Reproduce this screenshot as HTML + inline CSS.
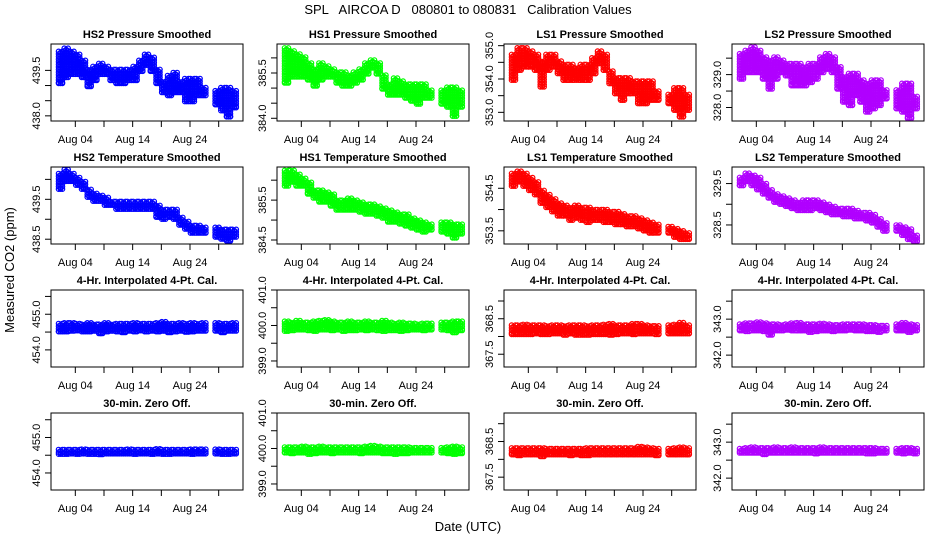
<!DOCTYPE html>
<html><head><meta charset="utf-8"><style>
html,body{margin:0;padding:0;background:#fff;}
svg{display:block;font-family:"Liberation Sans",Arial,sans-serif;}
</style></head><body>
<svg id="chart" width="936" height="540" viewBox="0 0 936 540" xmlns="http://www.w3.org/2000/svg">
<text x="468" y="14" text-anchor="middle" font-size="13" xml:space="preserve">SPL   AIRCOA D   080801 to 080831   Calibration Values</text>
<text transform="translate(14,270) rotate(-90)" text-anchor="middle" font-size="13">Measured CO2 (ppm)</text>
<text x="468" y="531" text-anchor="middle" font-size="13">Date (UTC)</text>
</svg>
<script>
// Shared x data: day-of-month centres of daily bands
const days = [1.5,2.5,3.5,4.5,5.5,6.5,7.5,8.5,9.5,10.5,11.5,12.5,13.5,14.5,15.5,16.5,17.5,18.5,19.5,20.5,21.5,22.5,23.5,24.5,25.5,26.5,28.8,29.8,30.8,31.8];
const xTicks = [4,9,14,19,24,29];
const xTickLabels = {4:"Aug 04",14:"Aug 14",24:"Aug 24"};
const panelTitles = ["HS2 Pressure Smoothed","HS1 Pressure Smoothed","LS1 Pressure Smoothed","LS2 Pressure Smoothed",
"HS2 Temperature Smoothed","HS1 Temperature Smoothed","LS1 Temperature Smoothed","LS2 Temperature Smoothed",
"4-Hr. Interpolated 4-Pt. Cal.","4-Hr. Interpolated 4-Pt. Cal.","4-Hr. Interpolated 4-Pt. Cal.","4-Hr. Interpolated 4-Pt. Cal.",
"30-min. Zero Off.","30-min. Zero Off.","30-min. Zero Off.","30-min. Zero Off."];
const yLims = [[437.83,440.37],[383.91,386.46],[352.74,355.05],[327.59,329.93],
[438.38,440.31],[384.4,386.33],[353.19,355.0],[328.04,329.9],
[453.52,455.68],[398.83,401.0],[367.14,369.31],[341.67,343.81],
[453.52,455.69],[398.83,401.0],[367.14,369.3],[341.67,343.81]];
const yTicks = [[438,438.5,439,439.5],[384,384.5,385,385.5,386],[353,353.5,354,354.5,355],[328,328.5,329,329.5],
[438.5,439,439.5,440],[384.5,385,385.5,386],[353.5,354,354.5],[328.5,329,329.5],
[454,454.5,455,455.5],[399,399.5,400,400.5,401],[367.5,368,368.5,369],[342,342.5,343,343.5],
[454,454.5,455,455.5],[399,399.5,400,400.5,401],[367.5,368,368.5,369],[342,342.5,343,343.5]];
const yTickLabels = [["438.0","439.5"],["384.0","385.5"],["353.0","354.0","355.0"],["328.0","329.0"],
["438.5","439.5"],["384.5","385.5"],["353.5","354.5"],["328.5","329.5"],
["454.0","455.0"],["399.0","400.0","401.0"],["367.5","368.5"],["342.0","343.0"],
["454.0","455.0"],["399.0","400.0","401.0"],["367.5","368.5"],["342.0","343.0"]];
const colors = ["#0000ff","#00ff00","#ff0000","#b000ff"];
// Series: lower and upper envelopes per day for each panel
const lo0=[439.0,439.2,439.3,439.3,439.2,438.9,439.1,439.3,439.3,439.1,439.0,439.0,439.1,439.1,439.4,439.6,439.4,439.0,438.7,438.6,438.7,438.7,438.4,438.4,438.6,438.6,438.3,438.1,437.9,438.2];
const hi0=[440.2,440.3,440.2,440.1,439.9,439.6,439.7,439.8,439.7,439.6,439.6,439.6,439.6,439.7,439.9,440.1,440.0,439.6,439.2,439.4,439.5,439.2,439.3,439.3,439.3,439.0,438.9,439.0,439.0,438.9];
const lo1=[385.1,385.3,385.3,385.3,385.2,385.0,385.2,385.3,385.3,385.1,385.0,385.0,385.1,385.2,385.4,385.6,385.4,384.9,384.7,384.7,384.7,384.6,384.5,384.4,384.6,384.6,384.4,384.3,384.0,384.3];
const hi1=[386.4,386.3,386.2,386.1,385.9,385.7,385.9,385.8,385.7,385.6,385.6,385.5,385.6,385.7,385.9,386.0,385.9,385.5,385.2,385.4,385.3,385.2,385.2,385.2,385.2,385.0,385.0,385.1,385.1,385.0];
const lo2=[353.9,354.2,354.3,354.3,354.2,353.7,354.2,354.3,354.1,353.9,353.9,353.9,353.9,353.9,354.1,354.4,354.2,353.8,353.5,353.3,353.5,353.5,353.2,353.2,353.3,353.3,353.2,353.0,352.8,353.0];
const hi2=[354.8,355.0,355.0,354.9,354.8,354.6,354.8,354.8,354.6,354.5,354.5,354.4,354.5,354.5,354.7,354.9,354.8,354.3,354.1,354.1,354.1,354.0,354.0,354.0,354.0,353.7,353.6,353.8,353.8,353.6];
const lo3=[328.8,329.0,329.0,329.0,328.8,328.5,328.8,329.0,328.9,328.6,328.6,328.6,328.7,328.8,329.0,329.1,329.0,328.5,328.1,328.0,328.3,328.1,327.8,327.9,328.0,328.2,327.9,327.8,327.6,327.9];
const hi3=[329.7,329.8,329.9,329.8,329.6,329.5,329.6,329.5,329.4,329.4,329.4,329.3,329.4,329.4,329.6,329.7,329.6,329.3,329.0,329.1,329.1,328.9,328.8,328.9,328.9,328.6,328.6,328.8,328.8,328.4];
const lo4=[439.7,439.9,439.9,439.8,439.7,439.5,439.4,439.4,439.3,439.3,439.2,439.2,439.2,439.2,439.2,439.2,439.2,439.0,438.95,439.0,438.95,438.8,438.7,438.6,438.6,438.6,438.5,438.45,438.4,438.5];
const hi4=[440.2,440.3,440.2,440.1,440.0,439.8,439.7,439.65,439.6,439.5,439.5,439.5,439.5,439.5,439.5,439.5,439.5,439.4,439.3,439.3,439.3,439.1,439.0,438.9,438.9,438.85,438.85,438.8,438.8,438.8];
const lo5=[385.8,385.9,385.8,385.8,385.6,385.5,385.4,385.4,385.3,385.2,385.2,385.2,385.2,385.15,385.1,385.1,385.05,385.0,384.9,384.9,384.85,384.8,384.75,384.7,384.65,384.7,384.65,384.6,384.5,384.6];
const hi5=[386.3,386.3,386.2,386.1,386.0,385.8,385.8,385.75,385.7,385.55,385.55,385.6,385.55,385.5,385.45,385.45,385.4,385.35,385.3,385.25,385.2,385.2,385.1,385.05,385.0,384.95,385.0,385.0,384.95,384.95];
const lo6=[354.5,354.6,354.5,354.4,354.3,354.1,354.0,353.9,353.8,353.8,353.7,353.75,353.7,353.65,353.7,353.7,353.65,353.65,353.6,353.6,353.55,353.55,353.5,353.45,353.4,353.4,353.4,353.3,353.25,353.25];
const hi6=[354.9,354.95,354.9,354.8,354.7,354.5,354.4,354.3,354.2,354.15,354.1,354.15,354.1,354.1,354.05,354.05,354.05,354.0,354.0,353.95,353.9,353.9,353.85,353.8,353.75,353.7,353.65,353.6,353.55,353.5];
const lo7=[329.4,329.5,329.4,329.3,329.2,329.1,329.0,328.95,328.9,328.85,328.8,328.8,328.8,328.85,328.8,328.75,328.7,328.7,328.65,328.65,328.6,328.6,328.55,328.5,328.4,328.3,328.3,328.2,328.1,328.05];
const hi7=[329.7,329.8,329.75,329.7,329.55,329.4,329.3,329.25,329.2,329.15,329.1,329.15,329.15,329.15,329.1,329.05,329.0,328.95,328.95,328.95,328.9,328.85,328.85,328.8,328.7,328.6,328.55,328.5,328.45,328.3];
const lo8=[454.45,454.45,454.47,454.48,454.45,454.45,454.47,454.4,454.45,454.47,454.45,454.43,454.47,454.45,454.48,454.45,454.47,454.45,454.47,454.43,454.45,454.47,454.44,454.45,454.47,454.47,454.47,454.43,454.47,454.47];
const hi8=[454.8,454.82,454.82,454.8,454.78,454.82,454.78,454.78,454.82,454.78,454.8,454.8,454.8,454.82,454.8,454.8,454.8,454.82,454.85,454.8,454.8,454.82,454.8,454.82,454.8,454.82,454.82,454.8,454.8,454.82];
const lo9=[399.78,399.8,399.82,399.82,399.8,399.78,399.82,399.82,399.8,399.82,399.78,399.8,399.8,399.82,399.8,399.82,399.8,399.78,399.8,399.8,399.78,399.8,399.82,399.82,399.8,399.82,399.82,399.8,399.74,399.8];
const hi9=[400.18,400.15,400.2,400.15,400.15,400.18,400.2,400.22,400.18,400.15,400.15,400.18,400.15,400.15,400.18,400.15,400.15,400.2,400.15,400.12,400.15,400.12,400.12,400.1,400.12,400.12,400.15,400.15,400.18,400.18];
const lo10=[368.0,368.0,368.0,368.0,368.02,368.0,368.0,368.02,368.02,367.98,368.02,367.98,367.98,367.98,368.0,368.0,368.0,367.98,368.0,368.02,368.02,368.0,368.02,368.02,368.02,368.0,368.02,368.02,368.02,368.02];
const hi10=[368.38,368.38,368.4,368.38,368.38,368.38,368.36,368.38,368.38,368.36,368.38,368.38,368.38,368.36,368.38,368.38,368.4,368.42,368.38,368.38,368.38,368.42,368.42,368.38,368.36,368.36,368.38,368.4,368.45,368.38];
const lo11=[342.62,342.6,342.62,342.62,342.6,342.5,342.62,342.62,342.64,342.62,342.62,342.62,342.58,342.6,342.62,342.62,342.6,342.62,342.62,342.64,342.62,342.62,342.6,342.6,342.58,342.62,342.62,342.62,342.58,342.62];
const hi11=[342.92,342.95,342.95,342.98,342.95,342.92,342.92,342.9,342.92,342.95,342.96,342.92,342.92,342.92,342.94,342.92,342.9,342.9,342.92,342.92,342.92,342.92,342.9,342.9,342.88,342.88,342.92,342.96,342.92,342.9];
const lo12=[454.47,454.47,454.48,454.47,454.48,454.47,454.47,454.46,454.48,454.48,454.48,454.48,454.48,454.47,454.48,454.48,454.47,454.48,454.47,454.47,454.48,454.48,454.48,454.47,454.48,454.48,454.48,454.47,454.47,454.48];
const hi12=[454.72,454.72,454.72,454.72,454.73,454.72,454.72,454.72,454.72,454.72,454.72,454.72,454.73,454.72,454.72,454.72,454.72,454.74,454.72,454.72,454.72,454.72,454.72,454.73,454.73,454.73,454.73,454.72,454.72,454.72];
const lo13=[399.82,399.8,399.82,399.82,399.78,399.8,399.82,399.82,399.8,399.82,399.82,399.82,399.82,399.8,399.82,399.82,399.82,399.8,399.8,399.78,399.8,399.8,399.82,399.82,399.82,399.82,399.82,399.8,399.78,399.8];
const hi13=[400.1,400.1,400.1,400.12,400.1,400.1,400.12,400.1,400.1,400.1,400.1,400.1,400.1,400.1,400.12,400.14,400.12,400.1,400.1,400.1,400.1,400.1,400.08,400.08,400.08,400.08,400.08,400.1,400.12,400.1];
const lo14=[368.07,368.05,368.07,368.07,368.07,368.02,368.07,368.07,368.07,368.07,368.05,368.07,368.05,368.05,368.07,368.07,368.07,368.07,368.07,368.07,368.07,368.07,368.07,368.07,368.07,368.05,368.07,368.07,368.07,368.07];
const hi14=[368.38,368.38,368.38,368.38,368.38,368.38,368.36,368.36,368.36,368.36,368.36,368.36,368.36,368.38,368.38,368.38,368.38,368.38,368.38,368.38,368.38,368.38,368.42,368.4,368.38,368.36,368.36,368.38,368.4,368.38];
const lo15=[342.64,342.64,342.64,342.64,342.6,342.64,342.64,342.64,342.64,342.64,342.64,342.64,342.64,342.62,342.64,342.64,342.64,342.64,342.64,342.64,342.64,342.64,342.62,342.62,342.64,342.64,342.64,342.62,342.64,342.62];
const hi15=[342.88,342.9,342.92,342.9,342.9,342.9,342.92,342.9,342.9,342.92,342.9,342.9,342.9,342.9,342.92,342.9,342.9,342.9,342.9,342.9,342.9,342.9,342.9,342.9,342.88,342.88,342.88,342.9,342.9,342.88];
const los=[lo0,lo1,lo2,lo3,lo4,lo5,lo6,lo7,lo8,lo9,lo10,lo11,lo12,lo13,lo14,lo15];
const his=[hi0,hi1,hi2,hi3,hi4,hi5,hi6,hi7,hi8,hi9,hi10,hi11,hi12,hi13,hi14,hi15];
const panelNames=["hs2-pressure","hs1-pressure","ls1-pressure","ls2-pressure","hs2-temperature","hs1-temperature","ls1-temperature","ls2-temperature","hs2-4hr-cal","hs1-4hr-cal","ls1-4hr-cal","ls2-4hr-cal","hs2-zero-off","hs1-zero-off","ls1-zero-off","ls2-zero-off"];

const NS="http://www.w3.org/2000/svg";
const svg=document.getElementById('chart');
const lefts=[51,277,504,732], tops=[44,167,290,413], W=192, H=77;
const xMin=-0.24, xMax=33.24;
function mk(tag,attrs,parent){const e=document.createElementNS(NS,tag);for(const k in attrs)e.setAttribute(k,attrs[k]);parent.appendChild(e);return e;}

for(let p=0;p<16;p++){
  const L=lefts[p%4], T=tops[Math.floor(p/4)];
  const g=mk('g',{},svg);
  
  
  const [y0,y1]=yLims[p];
  const xs=d=>L+(d-xMin)/(xMax-xMin)*W;
  const ys=v=>T+H-(v-y0)/(y1-y0)*H;
  const pts=mk('g',{fill:'none',stroke:colors[p%4],'stroke-width':'1.2'},g);
  
  
  for(let i=0;i<days.length;i++){
    const xa=xs(days[i]-0.5)+0.5, xb=xs(days[i]+0.5)-0.5;
    const ya=ys(his[p][i])+2.2, yb=ys(los[p][i])-2.2;
    let c=0;
    for(let x=xa;x<=xb+0.01;x+=1.9,c++){
      const off=(c%2)*1.3;
      if(yb<ya){ mk('circle',{cx:x.toFixed(1),cy:((ya+yb)/2).toFixed(1),r:'2.3'},pts); continue; }
      for(let y=ya+off;y<=yb+0.01;y+=2.6){
        mk('circle',{cx:x.toFixed(1),cy:y.toFixed(1),r:'2.3'},pts);
      }
      mk('circle',{cx:x.toFixed(1),cy:yb.toFixed(1),r:'2.3'},pts);
    }
  }
  const box=mk('rect',{x:L,y:T,width:W,height:H,fill:'none',stroke:'#000','stroke-width':'1'},g);
  
  
  const t=mk('text',{x:L+W/2,y:T-6,'text-anchor':'middle','font-size':'11','font-weight':'bold'},g);
  t.textContent=panelTitles[p];
  
  
  for(const d of xTicks){
    const x=xs(d);
    mk('line',{x1:x,y1:T+H,x2:x,y2:T+H+6,stroke:'#000','stroke-width':'1'},g);
    if(xTickLabels[d]){
      const lt=mk('text',{x:x,y:T+H+22,'text-anchor':'middle','font-size':'11'},g);
      lt.textContent=xTickLabels[d];
      
      
    }
  }
  for(const v of yTicks[p]){
    const y=ys(v);
    mk('line',{x1:L,y1:y,x2:L-6,y2:y,stroke:'#000','stroke-width':'1'},g);
    const lab=v.toFixed(1);
    if(yTickLabels[p].includes(lab)){
      const yt=mk('text',{transform:`translate(${L-11},${y}) rotate(-90)`,'text-anchor':'middle','font-size':'11'},g);
      yt.textContent=lab;
      
      
    }
  }
}
</script>
</body></html>
